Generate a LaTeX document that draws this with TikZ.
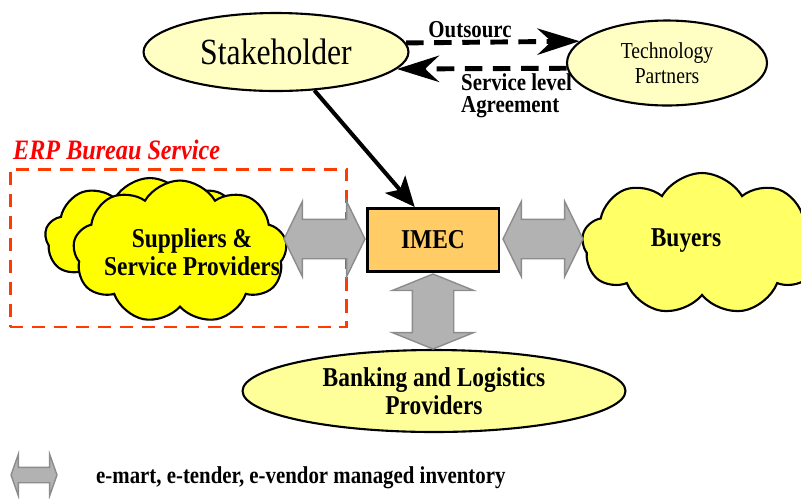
\documentclass[tikz,border=0pt]{standalone}
\usepackage{fontspec}
\setmainfont{Liberation Serif}[FakeStretch=0.86]
\usepackage{xcolor}
\usepackage{tikz}
\usetikzlibrary{positioning,shapes.geometric,shapes.symbols,shapes.arrows,arrows.meta}
\definecolor{palefill}{RGB}{255,255,196}
\definecolor{bankfill}{RGB}{255,255,153}
\definecolor{supfill}{RGB}{255,255,0}
\definecolor{buyfill}{RGB}{255,255,102}
\definecolor{imecfill}{RGB}{255,204,102}
\definecolor{arrowfill}{RGB}{178,178,178}
\definecolor{arrowline}{RGB}{140,140,140}
\definecolor{erpred}{RGB}{255,60,0}
\tikzset{
	ovalnode/.style={ellipse, draw=black, fill=palefill, line width=1.2pt, inner sep=0pt, align=center},
	cloudnode/.style={cloud, cloud puffs=9, cloud puff arc=120, aspect=1.6, draw=black, line width=1.2pt, inner sep=0pt},
	boxnode/.style={rectangle, draw=black, fill=imecfill, line width=1.7pt},
	boldtext/.style={font=\bfseries\fontsize{15.5}{16}\selectfont, align=center},
	smalltext/.style={font=\bfseries\fontsize{13.8}{11.5}\selectfont, align=left},
	fatarrow/.style={double arrow, draw=arrowline, fill=arrowfill, line width=0.8pt},
	dasharrow/.style={-{Stealth[length=24pt, width=15pt, inset=8pt]}, line width=2.8pt, dash pattern=on 10pt off 6pt},
	mainarrow/.style={-{Stealth[length=17pt, width=15pt, inset=4pt]}, line width=2.3pt}
}

\begin{document}
\begin{tikzpicture}[x=0.02cm, y=-0.02cm]
		\useasboundingbox (0,0) rectangle (801,498);
		
		\node[ovalnode, minimum width=5.3cm, minimum height=1.56cm, font=\fontsize{21}{24}\selectfont] at (276,52) (stake) {Stakeholder};
		\node[ovalnode, minimum width=4cm, minimum height=1.7cm, font=\fontsize{13}{14}\selectfont] at (667,63) (tech) {Technology\\Partners};
		\node[ovalnode, fill=bankfill, minimum width=7.66cm, minimum height=1.64cm, boldtext] at (434,391) (bank) {Banking and Logistics\\Providers};
		\node[boxnode, minimum width=2.64cm, minimum height=1.26cm, boldtext] at (433,240) (imec) {IMEC};
		
		%clouds
		\node[cloudnode, fill=supfill, minimum width=4.2cm, minimum height=2.4cm] at (150,238) (supback) {};
		\node[cloudnode, fill=supfill, minimum width=4.28cm, minimum height=2.86cm] at (180,252) (sup) {};
		\node[boldtext] at (192,252) (suptext) {Suppliers \&\\Service Providers};
		\node[cloudnode, fill=buyfill, minimum width=4.8cm, minimum height=2.84cm] at (702,244) (buy) {};
		\node[boldtext] at (686,241) (buytext) {Buyers};
		
		%ERP bureau
		\node[draw=erpred, line width=1.7pt, dash pattern=on 7.5pt off 5pt, minimum width=6.74cm, minimum height=3.16cm] at (178.5,248) (erpbox) {};
		\node[anchor=west, text=red, font=\bfseries\itshape\fontsize{16}{18}\selectfont] at (7,150) (erp) {ERP Bureau Service};
		
		%fat arrows
		\node[fatarrow, minimum height=1.62cm, inner sep=0.38cm, double arrow head extend=0.36cm, double arrow tip angle=128] at (324.5,239) (leftarrow) {};
		\node[fatarrow, minimum height=1.6cm, inner sep=0.38cm, double arrow head extend=0.36cm, double arrow tip angle=128] at (543,239) (rightarrow) {};
		\node[fatarrow, shape border rotate=90, minimum height=1.5cm, inner sep=0.4cm, double arrow head extend=0.4cm, double arrow tip angle=136] at (433,311.5) (downarrow) {};
		\node[fatarrow, minimum height=0.92cm, inner sep=0.14cm, double arrow head extend=0.26cm, double arrow tip angle=141] at (34,475) (keyarrow) {};
		\node[smalltext, anchor=west] at (90,478) (keytext) {e-mart, e-tender, e-vendor managed inventory};
		
		%Lines
		\draw[dasharrow] (stake.4) -- (tech.166);
		\draw[dasharrow] (tech.183) -- (stake.-8);
		\draw[mainarrow] (stake.-45) -- (imec.119);
		
		\node[smalltext] at (470,30) (outlabel) {Outsourc};
		\node[smalltext, anchor=west, font=\bfseries\fontsize{13.8}{12.5}\selectfont] at (455,96) (slalabel) {Service level\\Agreement};
		
	\end{tikzpicture}
\end{document}
